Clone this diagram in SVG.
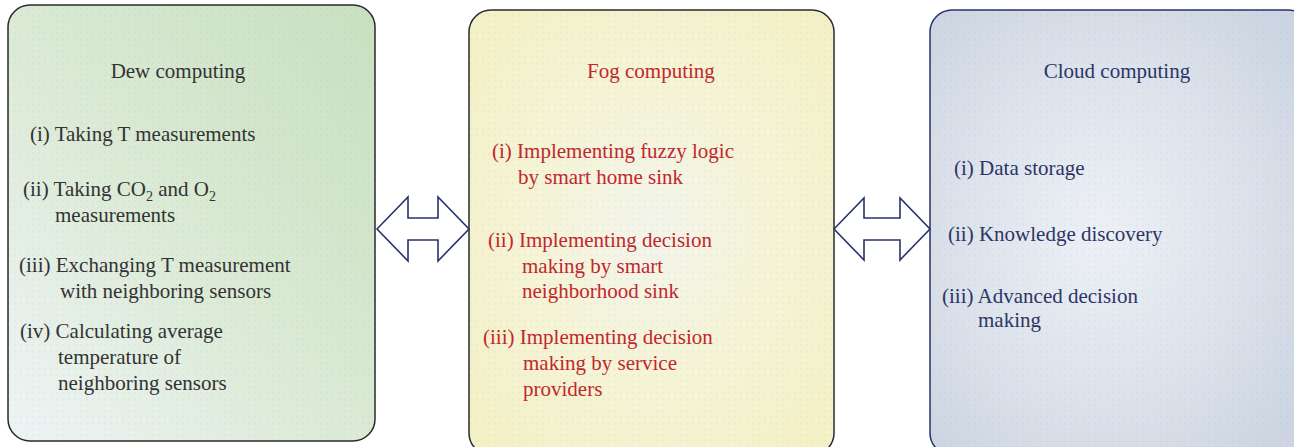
<svg xmlns="http://www.w3.org/2000/svg" width="1294" height="447" viewBox="0 0 1294 447">
<defs>
<linearGradient id="gDew" x1="1" y1="0" x2="0" y2="1">
<stop offset="0" stop-color="#c8e0c0"/>
<stop offset="0.55" stop-color="#dcebd6"/>
<stop offset="1" stop-color="#eef4f6"/>
</linearGradient>
<radialGradient id="gFog" cx="0.5" cy="0.5" r="0.65">
<stop offset="0" stop-color="#f3f5ec"/>
<stop offset="0.5" stop-color="#f5f4d6"/>
<stop offset="1" stop-color="#f4f1c6"/>
</radialGradient>
<radialGradient id="gCloud" cx="0.45" cy="0.5" r="0.65">
<stop offset="0" stop-color="#edf1f6"/>
<stop offset="0.6" stop-color="#dce2eb"/>
<stop offset="1" stop-color="#ccd5e1"/>
</radialGradient>
<pattern id="dots" width="6" height="6" patternUnits="userSpaceOnUse">
<circle cx="3" cy="3" r="0.6" fill="#8fa0c0" fill-opacity="0.35"/>
</pattern>
<style>
.box{stroke-width:1.5}
.t{font-family:"Liberation Serif","DejaVu Serif",serif;font-size:21px}
.dew{fill:#333333}
.fog{fill:#c1272d}
.cloud{fill:#2c3566}
.arrow{fill:#ffffff;stroke:#27336b;stroke-width:1.6;stroke-linejoin:miter}
</style>
</defs>
<rect width="1294" height="447" fill="#ffffff"/>
<g id="dew">
<rect class="box" x="8" y="5" width="367" height="436" rx="22" fill="url(#gDew)" stroke="#2a2a2a"/>
<rect x="9" y="6" width="365" height="434" rx="21" fill="url(#dots)"/>
<text class="t dew" x="178" y="78" text-anchor="middle">Dew computing</text>
<text class="t dew" x="30" y="141">(i) Taking T measurements</text>
<text class="t dew" x="23" y="196">(ii) Taking CO<tspan font-size="14" dy="5">2</tspan><tspan dy="-5"> and O</tspan><tspan font-size="14" dy="5">2</tspan></text>
<text class="t dew" x="55" y="222">measurements</text>
<text class="t dew" x="19" y="272">(iii) Exchanging T measurement</text>
<text class="t dew" x="60" y="298">with neighboring sensors</text>
<text class="t dew" x="20" y="338">(iv) Calculating average</text>
<text class="t dew" x="58" y="364">temperature of</text>
<text class="t dew" x="58" y="390">neighboring sensors</text>
</g>
<g id="fog">
<rect class="box" x="469" y="10" width="365" height="445" rx="22" fill="url(#gFog)" stroke="#2a2a2a"/>
<rect x="470" y="11" width="363" height="443" rx="21" fill="url(#dots)"/>
<text class="t fog" x="651" y="78" text-anchor="middle">Fog computing</text>
<text class="t fog" x="492" y="158">(i) Implementing fuzzy logic</text>
<text class="t fog" x="518" y="184">by smart home sink</text>
<text class="t fog" x="488" y="247">(ii) Implementing decision</text>
<text class="t fog" x="522" y="273">making by smart</text>
<text class="t fog" x="522" y="298">neighborhood sink</text>
<text class="t fog" x="483" y="344">(iii) Implementing decision</text>
<text class="t fog" x="523" y="370">making by service</text>
<text class="t fog" x="523" y="396">providers</text>
</g>
<g id="cloud">
<rect class="box" x="930" y="10" width="380" height="445" rx="22" fill="url(#gCloud)" stroke="#27336b"/>
<rect x="931" y="11" width="378" height="443" rx="21" fill="url(#dots)"/>
<text class="t cloud" x="1117" y="78" text-anchor="middle">Cloud computing</text>
<text class="t cloud" x="954" y="175">(i) Data storage</text>
<text class="t cloud" x="948" y="241">(ii) Knowledge discovery</text>
<text class="t cloud" x="942" y="303">(iii) Advanced decision</text>
<text class="t cloud" x="978" y="327">making</text>
</g>
<g id="connectors">
<path class="arrow" d="M377,229 L408,197 L408,218 L438,218 L438,197 L469,229 L438,261 L438,240 L408,240 L408,261 Z"/>
<path class="arrow" d="M834,229 L864,198 L864,218 L900,218 L900,198 L930,229 L900,260 L900,240 L864,240 L864,260 Z"/>
</g>
</svg>
